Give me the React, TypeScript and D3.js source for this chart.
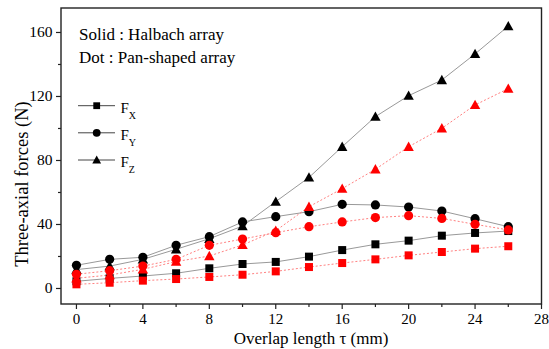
import React from "react";
import * as d3 from "d3";

const overlap = [0, 2, 4, 6, 8, 10, 12, 14, 16, 18, 20, 22, 24, 26];
const halbachFx = [4.5, 6.3, 7.8, 9.5, 12.6, 15.3, 16.6, 19.9, 24.0, 27.6, 29.9, 33.0, 34.7, 35.9];
const halbachFy = [14.5, 18.2, 19.5, 27.0, 32.4, 41.6, 44.9, 48.0, 52.6, 52.2, 50.9, 48.4, 43.6, 38.6];
const halbachFz = [11.8, 14.0, 18.2, 24.5, 31.1, 39.0, 54.3, 69.4, 88.6, 107.4, 120.5, 130.3, 146.6, 164.0];
const panFx = [2.6, 3.6, 4.9, 5.9, 7.2, 8.6, 10.7, 13.4, 15.9, 18.2, 20.7, 22.8, 24.9, 26.4];
const panFy = [8.9, 11.1, 14.0, 18.2, 27.0, 30.9, 34.9, 38.6, 41.6, 44.3, 45.5, 43.8, 40.1, 36.6];
const panFz = [6.4, 8.4, 12.0, 16.8, 20.3, 27.2, 36.1, 51.1, 62.4, 74.5, 88.6, 100.1, 114.7, 124.9];

const xTicks = [0, 4, 8, 12, 16, 20, 24, 28];
const yTicks = [0, 40, 80, 120, 160];

type Shape = "square" | "circle" | "triangle";

function Marker({ x, y, shape, fill, k = 1 }: { x: number; y: number; shape: Shape; fill: string; k?: number }) {
  if (shape === "square") return <rect x={x - 4 * k} y={y - 4 * k} width={8 * k} height={8 * k} fill={fill} />;
  if (shape === "circle") return <circle cx={x} cy={y} r={4.6 * k} fill={fill} />;
  const s = 5.2 * k;
  return <path d={`M${x},${y - s}L${x + s},${y + s * 0.8}L${x - s},${y + s * 0.8}Z`} fill={fill} />;
}

export default function App() {
  const W = 549, H = 349;
  const L = 61, R = 541.5, T = 8, B = 304;
  const x = d3.scaleLinear().domain([-0.93, 28]).range([L, R]);
  const y = d3.scaleLinear().domain([-9.7, 175.3]).range([B, T]);
  const line = d3.line<number>().x((_, i) => x(overlap[i])).y((d) => y(d));

  const series: { data: number[]; shape: Shape; pan: boolean }[] = [
    { data: halbachFx, shape: "square", pan: false },
    { data: halbachFy, shape: "circle", pan: false },
    { data: halbachFz, shape: "triangle", pan: false },
    { data: panFx, shape: "square", pan: true },
    { data: panFy, shape: "circle", pan: true },
    { data: panFz, shape: "triangle", pan: true },
  ];

  const xMinor = d3.range(0, 29, 2);
  const yMinor = d3.range(0, 161, 20);
  const font = "'Liberation Serif', 'Times New Roman', serif";

  const legend = [
    { label: "X", shape: "square" as Shape, yy: 105.7 },
    { label: "Y", shape: "circle" as Shape, yy: 132.8 },
    { label: "Z", shape: "triangle" as Shape, yy: 160 },
  ];

  return (
    <svg width={W} height={H} style={{ position: "absolute", left: 0, top: 0, background: "#fff" }} fontFamily={font}>
      {series.map((s, i) => (
        <path
          key={"l" + i}
          d={line(s.data) || ""}
          fill="none"
          stroke={s.pan ? "#ff8080" : "#999999"}
          strokeWidth={1}
          strokeDasharray={s.pan ? "2,2" : undefined}
        />
      ))}
      {series.map((s, i) =>
        s.data.map((v, j) => (
          <Marker key={"m" + i + "-" + j} x={x(overlap[j])} y={y(v)} shape={s.shape} fill={s.pan ? "#ff0000" : "#000"} />
        ))
      )}
      <rect x={L} y={T} width={R - L} height={B - T} fill="none" stroke="#222" strokeWidth={1.4} />
      {xMinor.map((t) => (
        <line key={"xm" + t} x1={x(t)} x2={x(t)} y1={B} y2={B + (t % 4 === 0 ? 5 : 3)} stroke="#222" strokeWidth={1.2} />
      ))}
      {xTicks.map((t) => (
        <text key={"xt" + t} x={x(t)} y={324} textAnchor="middle" fontSize={15}>
          {t}
        </text>
      ))}
      {yMinor.map((t) => (
        <line key={"ym" + t} x1={L} x2={L - (t % 40 === 0 ? 5 : 3)} y1={y(t)} y2={y(t)} stroke="#222" strokeWidth={1.2} />
      ))}
      {yTicks.map((t) => (
        <text key={"yt" + t} x={52.5} y={y(t) + 5} textAnchor="end" fontSize={15.5}>
          {t}
        </text>
      ))}
      <text x={311} y={343.5} textAnchor="middle" fontSize={17}>
        Overlap length τ (mm)
      </text>
      <text transform={`translate(28,184) rotate(-90)`} textAnchor="middle" fontSize={18.5}>
        Three-axial forces (N)
      </text>
      <text x={79} y={40} fontSize={17}>Solid : Halbach array</text>
      <text x={79} y={63} fontSize={17}>Dot : Pan-shaped array</text>
      {legend.map((g) => (
        <g key={g.label}>
          <line x1={78} x2={115} y1={g.yy} y2={g.yy} stroke="#444" strokeWidth={1} />
          <Marker x={96.7} y={g.yy} shape={g.shape} fill="#000" k={0.85} />
          <text x={120.5} y={g.yy + 7} fontSize={15}>
            F<tspan fontSize={10} dy={6}>{g.label}</tspan>
          </text>
        </g>
      ))}
    </svg>
  );
}
